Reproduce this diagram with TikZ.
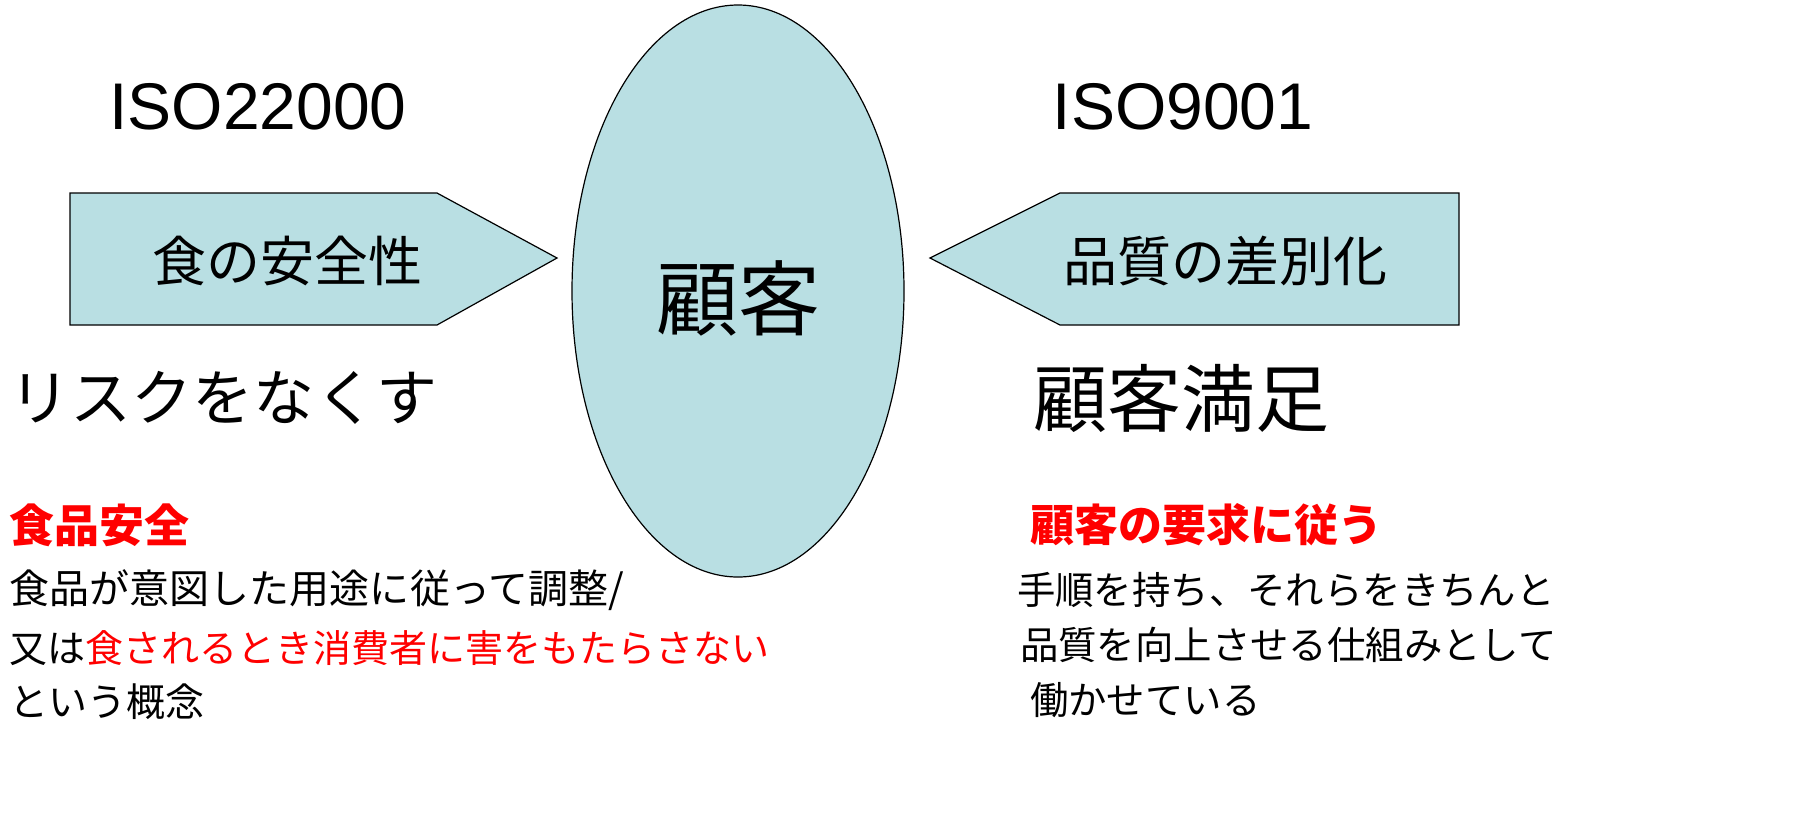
\documentclass[tikz,border=0pt]{standalone}
\usepackage{fontspec}
\setmainfont{Liberation Sans}
\newfontfamily\jp{Noto Sans CJK JP}
\usetikzlibrary{shapes.geometric}
\definecolor{boxblue}{RGB}{185,223,227}
\definecolor{redtxt}{RGB}{255,0,0}
\tikzset{
  shapebox/.style={draw=black, line width=0.6pt, fill=boxblue},
  txt/.style={inner sep=0pt, outer sep=0pt, font=\jp},
  isotxt/.style={inner sep=0pt, font=\fontsize{33}{36}\selectfont},
}
\begin{document}
\begin{tikzpicture}[x=0.5pt,y=-0.5pt]
\useasboundingbox (0,0) rectangle (1793,821);
% ellipse
\node[shapebox, ellipse, minimum width=166pt, minimum height=286pt, inner sep=0pt] (cust) at (738,291) {};
\node[txt, font=\jp\fontsize{41}{44}\selectfont] (custlbl) at (738,298) {顧客};
% left pentagon
\draw[shapebox] (70,193) -- (437,193) -- (557,258) -- (437,325) -- (70,325) -- cycle;
\node[txt, font=\jp\fontsize{27}{30}\selectfont] (food) at (287,261) {食の安全性};
% right pentagon
\draw[shapebox] (1459,193) -- (1060,193) -- (930,258) -- (1060,325) -- (1459,325) -- cycle;
\node[txt, font=\jp\fontsize{27}{30}\selectfont] (qual) at (1225,261) {品質の差別化};
% ISO labels
\node[isotxt] (iso22) at (258,107) {ISO22000};
\node[isotxt] (iso9) at (1183,107) {ISO9001};
% big statements
\node[txt, anchor=west, font=\jp\fontsize{30.5}{33}\selectfont] (risk) at (10,398) {リスクをなくす};
\node[txt, anchor=west, font=\jp\fontsize{37}{40}\selectfont] (sat) at (1033,398) {顧客満足};
% red headings
\node[txt, anchor=west, text=redtxt, font=\jp\bfseries\fontsize{22.5}{25}\selectfont] (fs) at (10,525) {食品安全};
\node[txt, anchor=west, text=redtxt, font=\jp\bfseries\fontsize{22}{25}\selectfont] (req) at (1030,525) {顧客の要求に従う};
% left body
\node[txt, anchor=west, font=\jp\fontsize{20}{22}\selectfont] (l1) at (10,590) {食品が意図した用途に従って調整/};
\node[txt, anchor=west, font=\jp\fontsize{19}{22}\selectfont] (l2) at (10,648) {又は{\color{redtxt}食されるとき消費者に害をもたらさない}};
\node[txt, anchor=west, font=\jp\fontsize{19.5}{22}\selectfont] (l3) at (10,702) {という概念};
% right body
\node[txt, anchor=west, font=\jp\fontsize{19.2}{22}\selectfont] (r1) at (1017,590) {手順を持ち、それらをきちんと};
\node[txt, anchor=west, font=\jp\fontsize{19.2}{22}\selectfont] (r2) at (1020,645) {品質を向上させる仕組みとして};
\node[txt, anchor=west, font=\jp\fontsize{19.2}{22}\selectfont] (r3) at (1030,700) {働かせている};
\end{tikzpicture}
\end{document}
